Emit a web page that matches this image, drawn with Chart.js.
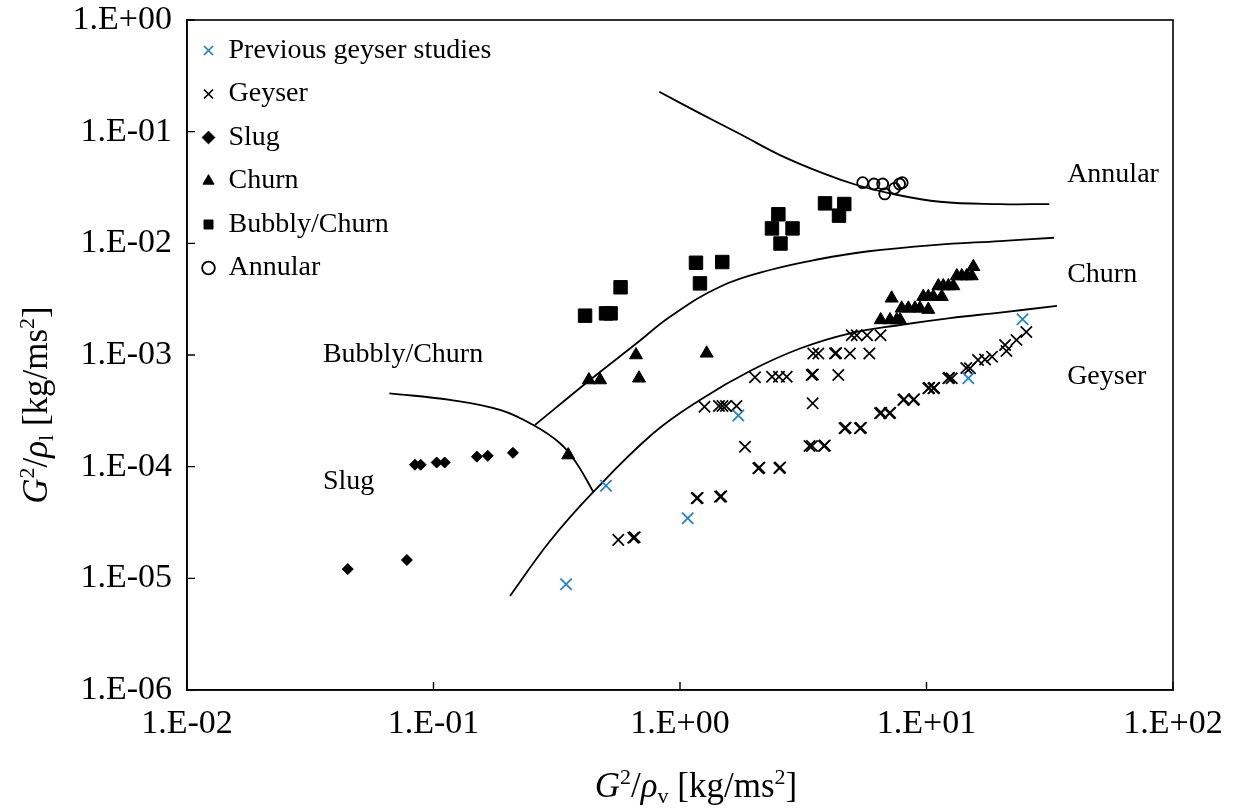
<!DOCTYPE html>
<html>
<head>
<meta charset="utf-8">
<script src="https://cdn.jsdelivr.net/npm/chart.js@4/dist/chart.umd.min.js"></script>
<style>
  html, body { margin: 0; padding: 0; background: #ffffff; }
  #wrap { width: 1245px; height: 810px; }
</style>
</head>
<body>
<div id="wrap"><canvas id="c" width="1245" height="810"></canvas></div>
<script>
// ---------------- DATA ----------------
const seriesNames = ['Previous geyser studies', 'Geyser', 'Slug', 'Churn', 'Bubbly/Churn', 'Annular'];

const prevX = [0.345, 0.501, 1.075, 1.724, 14.78, 24.52];
const prevY = [8.86e-6, 6.76e-5, 3.45e-5, 2.87e-4, 6.19e-4, 2.09e-3];

const geyserX = [0.562, 0.646, 0.655, 1.169, 1.18, 1.453, 1.47, 1.835, 2.078, 2.10, 2.528, 2.55,
  1.257, 1.439, 1.487, 1.537, 1.695, 2.015, 2.362, 2.521, 2.710, 3.421, 3.46, 4.387, 3.453,
  3.353, 3.431, 3.839, 3.87, 4.649, 4.70, 5.373, 5.42, 3.473, 3.640, 4.254, 4.30, 4.893, 5.862,
  4.972, 5.211, 5.737, 6.509, 6.478, 6.55, 7.066, 7.12, 8.053, 8.12, 8.841, 8.90, 10.17, 10.25,
  10.66, 10.75, 12.26, 12.35, 12.66, 14.50, 15.01, 16.18, 17.28, 18.44, 20.83, 21.11, 23.18, 25.41];
const geyserY = [2.21e-5, 2.31e-5, 2.33e-5, 5.21e-5, 5.25e-5, 5.39e-5, 5.42e-5, 1.51e-4, 9.67e-5, 9.8e-5, 9.73e-5, 9.85e-5,
  3.44e-4, 3.49e-4, 3.49e-4, 3.49e-4, 3.49e-4, 6.32e-4, 6.39e-4, 6.39e-4, 6.39e-4, 6.62e-4, 6.7e-4, 6.62e-4, 3.69e-4,
  1.53e-4, 1.53e-4, 1.53e-4, 1.55e-4, 2.21e-4, 2.23e-4, 2.21e-4, 2.23e-4, 1.031e-3, 1.031e-3, 1.031e-3, 1.04e-3, 1.031e-3, 1.031e-3,
  1.501e-3, 1.501e-3, 1.501e-3, 1.501e-3, 3.01e-4, 3.04e-4, 3.01e-4, 3.04e-4, 3.96e-4, 4.02e-4, 3.96e-4, 4.02e-4, 5.03e-4, 5.08e-4,
  5.03e-4, 5.08e-4, 6.19e-4, 6.25e-4, 6.19e-4, 7.65e-4, 7.60e-4, 9.02e-4, 9.11e-4, 9.66e-4, 1.229e-3, 1.086e-3, 1.362e-3, 1.607e-3];

const slugX = [0.0449, 0.078, 0.0841, 0.0887, 0.103, 0.111, 0.150, 0.166, 0.210];
const slugY = [1.21e-5, 1.46e-5, 1.04e-4, 1.04e-4, 1.09e-4, 1.09e-4, 1.23e-4, 1.25e-4, 1.33e-4];

const churnX = [0.352, 0.427, 0.474, 0.663, 0.682, 1.283,
  6.52, 7.11, 7.57, 7.81, 7.22,
  7.93, 8.44, 8.98, 9.41, 10.17,
  9.70, 10.17, 10.66, 11.53,
  11.17, 11.70, 12.26, 12.85,
  13.27, 13.90, 14.56, 15.26, 15.49];
const churnY = [1.27e-4, 5.97e-4, 5.97e-4, 1.0e-3, 6.19e-4, 1.036e-3,
  2.06e-3, 2.06e-3, 2.06e-3, 2.06e-3, 3.22e-3,
  2.62e-3, 2.62e-3, 2.62e-3, 2.62e-3, 2.55e-3,
  3.33e-3, 3.33e-3, 3.33e-3, 3.33e-3,
  4.15e-3, 4.15e-3, 4.15e-3, 4.15e-3,
  5.10e-3, 5.10e-3, 5.10e-3, 5.10e-3, 6.17e-3];

const bubblyX = [0.412, 0.501, 0.523, 0.574, 1.161, 1.205, 1.484, 2.506, 2.361, 2.861, 2.557, 3.875, 4.640, 4.416];
const bubblyY = [2.25e-3, 2.36e-3, 2.36e-3, 4.04e-3, 6.70e-3, 4.38e-3, 6.80e-3, 1.82e-2, 1.36e-2, 1.36e-2, 9.96e-3, 2.28e-2, 2.25e-2, 1.77e-2];

const annularX = [5.51, 6.12, 6.64, 6.77, 7.42, 7.77, 7.97];
const annularY = [3.49e-2, 3.40e-2, 3.40e-2, 2.77e-2, 3.11e-2, 3.40e-2, 3.49e-2];

// boundary curves
const curveAnnularX = [0.824, 1.205, 1.752, 2.545, 3.814, 5.211, 7.11, 11.34, 19.87, 31.49];
const curveAnnularY = [0.2276, 0.1458, 0.0952, 0.0617, 0.0423, 0.0333, 0.0280, 0.02357, 0.02245, 0.02245];
const curveChurnX = [0.258, 0.431, 0.667, 0.911, 1.453, 2.318, 3.698, 5.719, 10.66, 19.87, 32.9];
const curveChurnY = [2.36e-4, 5.97e-4, 1.273e-3, 2.20e-3, 4.09e-3, 5.77e-3, 7.24e-3, 8.45e-3, 9.65e-3, 1.048e-2, 1.122e-2];
const curveGeyserX = [0.2044, 0.297, 0.445, 0.779, 1.205, 1.923, 3.068, 4.893, 7.81, 12.46, 19.87, 33.83];
const curveGeyserY = [6.96e-6, 2.16e-5, 5.94e-5, 1.99e-4, 3.96e-4, 7.19e-4, 1.143e-3, 1.564e-3, 1.856e-3, 2.14e-3, 2.40e-3, 2.75e-3];
const curveSlugX = [0.0662, 0.1167, 0.186, 0.254, 0.326, 0.381, 0.445];
const curveSlugY = [4.54e-4, 3.96e-4, 3.22e-4, 2.36e-4, 1.62e-4, 1.07e-4, 5.94e-5];

const regionNames = ['Annular', 'Churn', 'Geyser', 'Bubbly/Churn', 'Slug'];
const regionAnchorX = [37.2, 37.2, 37.2, 0.0356, 0.0356];
const regionAnchorY = [0.0409, 5.2e-3, 6.36e-4, 1.0e-3, 7.3e-5];

const xTickValues = [0.01, 0.1, 1, 10, 100];
const xTickLabels = ['1.E-02', '1.E-01', '1.E+00', '1.E+01', '1.E+02'];
const yTickValues = [1e-6, 1e-5, 1e-4, 1e-3, 1e-2, 1e-1, 1];
const yTickLabels = ['1.E-06', '1.E-05', '1.E-04', '1.E-03', '1.E-02', '1.E-01', '1.E+00'];

// axis titles: [text, style] runs (i = italic, sup = superscript, sub = subscript)
const xTitleRuns = [['G', 'i'], ['2', 'sup'], ['/', ''], ['ρ', 'i'], ['v', 'sub'], [' [kg/ms', ''], ['2', 'sup'], [']', '']];
const yTitleRuns = [['G', 'i'], ['2', 'sup'], ['/', ''], ['ρ', 'i'], ['l', 'sub'], [' [kg/ms', ''], ['2', 'sup'], [']', '']];

// ---------------- BUILD ----------------
const SERIF = "'Liberation Serif', 'DejaVu Serif', serif";
const BLUE = '#1f7fcf';
const pts = (xs, ys) => xs.map((x, i) => ({x: x, y: ys[i]}));
const labelFor = (vals, labels) => (value) => {
  const i = vals.findIndex(v => Math.abs(Math.log10(v) - Math.log10(value)) < 1e-6);
  return i >= 0 ? labels[i] : '';
};

const curve = (label, xs, ys) => ({
  label: label, data: pts(xs, ys), showLine: true, pointRadius: 0, pointHoverRadius: 0,
  borderColor: '#000', borderWidth: 1.8, fill: false, tension: 0.4
});

const datasets = [
  {label: seriesNames[0], data: pts(prevX, prevY), pointStyle: 'crossRot', pointRadius: 8,
   borderColor: BLUE, backgroundColor: BLUE, borderWidth: 1.7},
  {label: seriesNames[1], data: pts(geyserX, geyserY), pointStyle: 'crossRot', pointRadius: 8,
   borderColor: '#000', backgroundColor: '#000', borderWidth: 1.7},
  {label: seriesNames[2], data: pts(slugX, slugY), pointStyle: 'rectRot', pointRadius: 5.5,
   borderColor: '#000', backgroundColor: '#000', borderWidth: 1},
  {label: seriesNames[3], data: pts(churnX, churnY), pointStyle: 'triangle', pointRadius: 7.5,
   borderColor: '#000', backgroundColor: '#000', borderWidth: 1},
  {label: seriesNames[4], data: pts(bubblyX, bubblyY), pointStyle: 'rect', pointRadius: 9.5,
   borderColor: '#000', backgroundColor: '#000', borderWidth: 1},
  {label: seriesNames[5], data: pts(annularX, annularY), pointStyle: 'circle', pointRadius: 5.5,
   borderColor: '#000', backgroundColor: 'rgba(255,255,255,0)', borderWidth: 1.8},
  curve('boundary-annular', curveAnnularX, curveAnnularY),
  curve('boundary-churn', curveChurnX, curveChurnY),
  curve('boundary-geyser', curveGeyserX, curveGeyserY),
  curve('boundary-slug', curveSlugX, curveSlugY)
];

function runFont(style, size) {
  const s = (style === 'sup' || style === 'sub') ? Math.round(size * 0.62) : size;
  return (style === 'i' ? 'italic ' : '') + s + 'px ' + SERIF;
}
function drawRich(ctx, runs, size, cx, cy, rot) {
  ctx.save();
  ctx.translate(cx, cy);
  ctx.rotate(rot);
  ctx.textAlign = 'left';
  ctx.textBaseline = 'alphabetic';
  ctx.fillStyle = '#000';
  let total = 0;
  runs.forEach(r => { ctx.font = runFont(r[1], size); total += ctx.measureText(r[0]).width; });
  let x = -total / 2;
  runs.forEach(r => {
    ctx.font = runFont(r[1], size);
    const dy = r[1] === 'sup' ? -size * 0.38 : (r[1] === 'sub' ? size * 0.16 : 0);
    ctx.fillText(r[0], x, dy);
    x += ctx.measureText(r[0]).width;
  });
  ctx.restore();
}

const decor = {
  id: 'decor',
  afterDatasetsDraw(chart) {
    const {ctx, chartArea: a, scales: {x, y}} = chart;
    ctx.save();
    ctx.strokeStyle = '#000';
    ctx.lineWidth = 1.6;
    ctx.strokeRect(a.left, a.top, a.right - a.left, a.bottom - a.top);
    ctx.lineWidth = 1.4;
    ctx.beginPath();
    xTickValues.forEach(v => { const p = x.getPixelForValue(v); ctx.moveTo(p, a.bottom); ctx.lineTo(p, a.bottom - 8); });
    yTickValues.forEach(v => { const p = y.getPixelForValue(v); ctx.moveTo(a.left, p); ctx.lineTo(a.left + 8, p); });
    ctx.stroke();
    ctx.fillStyle = '#000';
    ctx.font = '28px ' + SERIF;
    ctx.textAlign = 'left';
    ctx.textBaseline = 'middle';
    regionNames.forEach((t, i) => {
      ctx.fillText(t, x.getPixelForValue(regionAnchorX[i]), y.getPixelForValue(regionAnchorY[i]));
    });
    ctx.restore();
  },
  afterDraw(chart) {
    const {ctx} = chart;
    drawRich(ctx, xTitleRuns, 35, 696, 797, 0);
    drawRich(ctx, yTitleRuns, 35, 47, 405, -Math.PI / 2);
  }
};

new Chart(document.getElementById('c'), {
  type: 'scatter',
  data: {datasets: datasets},
  plugins: [decor],
  options: {
    responsive: false,
    animation: false,
    devicePixelRatio: 1,
    layout: {padding: {left: 0, top: 20, right: 72, bottom: 0}},
    plugins: {
      tooltip: {enabled: false},
      legend: {
        position: 'chartArea',
        align: 'start',
        title: {display: true, text: '', font: {size: 10}, padding: {top: 4.5, bottom: 4.5}},
        labels: {
          filter: (item) => item.datasetIndex < 6,
          usePointStyle: true,
          boxWidth: 12,
          boxHeight: 9,
          padding: 15.5,
          color: '#000',
          font: {family: SERIF, size: 28}
        }
      }
    },
    scales: {
      x: {
        type: 'logarithmic', position: 'bottom', min: 0.01, max: 100,
        afterBuildTicks: (s) => { s.ticks = xTickValues.map(v => ({value: v})); },
        afterFit: (s) => { s.height = 120; },
        grid: {display: true, drawOnChartArea: false, drawTicks: true, tickLength: 15, tickColor: 'rgba(0,0,0,0)'},
        border: {display: true, color: '#000', width: 1.6},
        ticks: {callback: labelFor(xTickValues, xTickLabels), autoSkip: false, maxRotation: 0,
                padding: 0, color: '#000', font: {family: SERIF, size: 34, lineHeight: 1.1}},
        title: {display: false}
      },
      y: {
        type: 'logarithmic', position: 'left', min: 1e-6, max: 1,
        afterBuildTicks: (s) => { s.ticks = yTickValues.map(v => ({value: v})); },
        afterFit: (s) => { s.width = 187; },
        grid: {display: true, drawOnChartArea: false, drawTicks: true, tickLength: 15, tickColor: 'rgba(0,0,0,0)'},
        border: {display: true, color: '#000', width: 1.6},
        ticks: {callback: labelFor(yTickValues, yTickLabels), autoSkip: false,
                padding: 0, color: '#000', font: {family: SERIF, size: 34, lineHeight: 1.1}},
        title: {display: false}
      }
    }
  }
});
</script>
</body>
</html>
